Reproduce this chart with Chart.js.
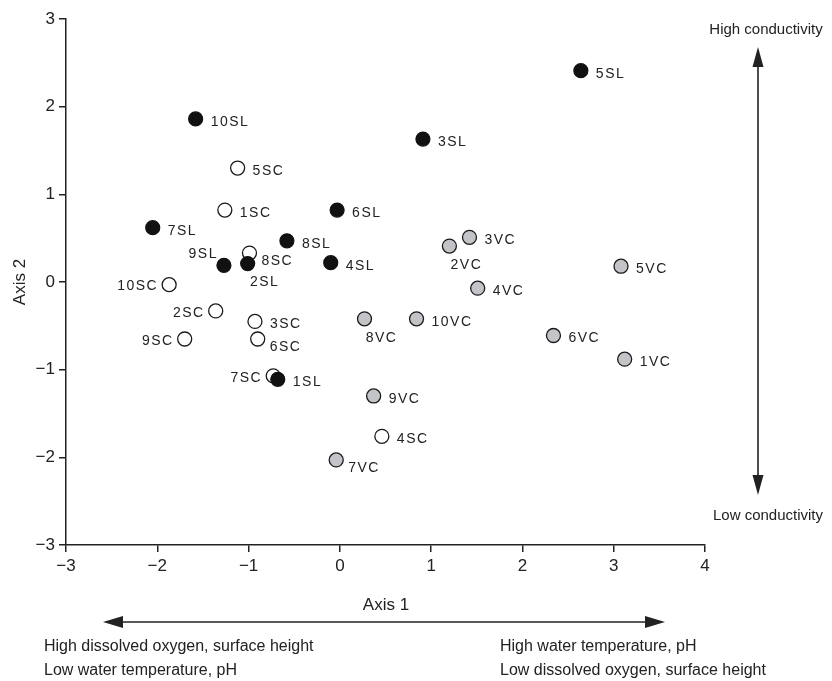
<!DOCTYPE html>
<html><head><meta charset="utf-8">
<script src="https://cdn.jsdelivr.net/npm/chart.js@4.4.0/dist/chart.umd.min.js"></script>
<style>html,body{margin:0;padding:0;background:#fff}</style>
</head><body>
<canvas id="c" width="832" height="681"></canvas>
<script>
// ---- data ----
const slNames = ['1SL','2SL','3SL','4SL','5SL','6SL','7SL','8SL','9SL','10SL'];
const slX = [-0.68,-1.01,0.91,-0.10,2.64,-0.03,-2.05,-0.58,-1.27,-1.58];
const slY = [-1.11,0.21,1.63,0.22,2.41,0.82,0.62,0.47,0.19,1.86];

const scNames = ['1SC','2SC','3SC','4SC','5SC','6SC','7SC','8SC','9SC','10SC'];
const scX = [-1.26,-1.36,-0.93,0.46,-1.12,-0.90,-0.73,-0.99,-1.70,-1.87];
const scY = [0.82,-0.33,-0.45,-1.76,1.30,-0.65,-1.07,0.33,-0.65,-0.03];

const vcNames = ['1VC','2VC','3VC','4VC','5VC','6VC','7VC','8VC','9VC','10VC'];
const vcX = [3.12,1.20,1.42,1.51,3.08,2.34,-0.04,0.27,0.37,0.84];
const vcY = [-0.88,0.41,0.51,-0.07,0.18,-0.61,-2.03,-0.42,-1.30,-0.42];

const xTicks = [-3,-2,-1,0,1,2,3,4];
const yTicks = [-3,-2,-1,0,1,2,3];

// label placement keywords (r = right, l = left, b = below, br = lower right, tl = upper left)
const slPlace = ['r','b','r','r','r','r','r','r','tl','r'];
const scPlace = ['r','l','r','r','r','br','l','br','l','l'];
const vcPlace = ['r','b','r','r','r','r','br','b','r','r'];

const FONT = '"Liberation Sans", Arial, Helvetica, sans-serif';
const INK = '#222';

function pts(xs, ys){ return xs.map((x,i)=>({x:x, y:ys[i]})); }
function fmt(v){ return v < 0 ? '\u2212' + Math.abs(v) : String(v); }

const placeOffsets = {
  r:  {dx: 15, dy: 3,  align: 'left'},
  br: {dx: 12, dy: 8,  align: 'left'},
  l:  {dx: -11, dy: 2, align: 'right'},
  b:  {dx: 17, dy: 19, align: 'center'},
  tl: {dx: -6, dy: -11, align: 'right'}
};

const labelPlugin = {
  id: 'labels',
  afterDatasetsDraw(chart){
    const ctx = chart.ctx;
    ctx.save();
    ctx.fillStyle = INK;
    ctx.font = '14px ' + FONT;
    ctx.textBaseline = 'middle';
    try { ctx.letterSpacing = '1.5px'; } catch(e) {}
    chart.data.datasets.forEach((ds, di) => {
      const meta = chart.getDatasetMeta(di);
      meta.data.forEach((el, j) => {
        const o = placeOffsets[ds.places[j]];
        ctx.textAlign = o.align;
        ctx.fillText(ds.names[j], el.x + o.dx, el.y + o.dy);
      });
    });
    try { ctx.letterSpacing = '0px'; } catch(e) {}

    // axis titles
    ctx.textAlign = 'center';
    ctx.font = '17px ' + FONT;
    ctx.fillText('Axis 1', 386, 605);
    ctx.save();
    ctx.translate(20, 282);
    ctx.rotate(-Math.PI/2);
    ctx.fillText('Axis 2', 0, 0);
    ctx.restore();

    // arrows
    ctx.strokeStyle = INK;
    ctx.lineWidth = 1.6;
    function arrowHead(tx, ty, dirx, diry, len, hw){
      ctx.beginPath();
      ctx.moveTo(tx, ty);
      ctx.lineTo(tx - dirx*len - diry*hw, ty - diry*len + dirx*hw);
      ctx.lineTo(tx - dirx*len + diry*hw, ty - diry*len - dirx*hw);
      ctx.closePath();
      ctx.fill();
    }
    // horizontal
    ctx.beginPath(); ctx.moveTo(110, 622); ctx.lineTo(658, 622); ctx.stroke();
    arrowHead(103, 622, -1, 0, 20, 6);
    arrowHead(665, 622, 1, 0, 20, 6);
    // vertical
    ctx.beginPath(); ctx.moveTo(758, 54); ctx.lineTo(758, 488); ctx.stroke();
    arrowHead(758, 47, 0, -1, 20, 5.5);
    arrowHead(758, 495, 0, 1, 20, 5.5);

    // descriptive texts
    ctx.font = '15px ' + FONT;
    ctx.textAlign = 'center';
    ctx.fillText('High conductivity', 766, 30);
    ctx.fillText('Low conductivity', 768, 516);
    ctx.font = '16px ' + FONT;
    ctx.textAlign = 'left';
    ctx.fillText('High dissolved oxygen, surface height', 44, 647);
    ctx.fillText('Low water temperature, pH', 44, 671);
    ctx.fillText('High water temperature, pH', 500, 647);
    ctx.fillText('Low dissolved oxygen, surface height', 500, 671);
    ctx.restore();
  }
};

const axisCommon = {
  type: 'linear',
  grid: { display: true, drawOnChartArea: false, drawTicks: true, tickLength: 7, color: INK, lineWidth: 1.5 },
  border: { display: true, color: INK, width: 1.5 },
  title: { display: false }
};

new Chart(document.getElementById('c'), {
  type: 'scatter',
  data: {
    datasets: [
      { label: 'SL', names: slNames, places: slPlace, data: pts(slX, slY),
        pointRadius: 7, pointHoverRadius: 7, pointBackgroundColor: '#111', pointBorderColor: '#111', pointBorderWidth: 1.2 },
      { label: 'VC', names: vcNames, places: vcPlace, data: pts(vcX, vcY),
        pointRadius: 7, pointHoverRadius: 7, pointBackgroundColor: '#c3c4c8', pointBorderColor: '#1a1a1a', pointBorderWidth: 1.3 },
      { label: 'SC', names: scNames, places: scPlace, data: pts(scX, scY),
        pointRadius: 7, pointHoverRadius: 7, pointBackgroundColor: '#fff', pointBorderColor: '#1a1a1a', pointBorderWidth: 1.3 }
    ]
  },
  options: {
    responsive: false,
    animation: false,
    layout: { padding: { left: 0, top: 19, right: 127, bottom: 96 } },
    plugins: { legend: { display: false }, tooltip: { enabled: false } },
    scales: {
      x: Object.assign({}, axisCommon, {
        min: -3, max: 4,
        afterBuildTicks: s => { s.ticks = xTicks.map(v => ({value: v})); },
        afterFit: s => { s.height = 40; },
        ticks: { callback: v => fmt(v), font: { family: FONT, size: 17 }, color: INK, padding: 4, maxRotation: 0, autoSkip: false }
      }),
      y: Object.assign({}, axisCommon, {
        min: -3, max: 3,
        afterBuildTicks: s => { s.ticks = yTicks.map(v => ({value: v})); },
        afterFit: s => { s.width = 66; },
        ticks: { callback: v => fmt(v), font: { family: FONT, size: 17 }, color: INK, padding: 4, autoSkip: false }
      })
    }
  },
  plugins: [labelPlugin]
});
</script>
</body></html>
